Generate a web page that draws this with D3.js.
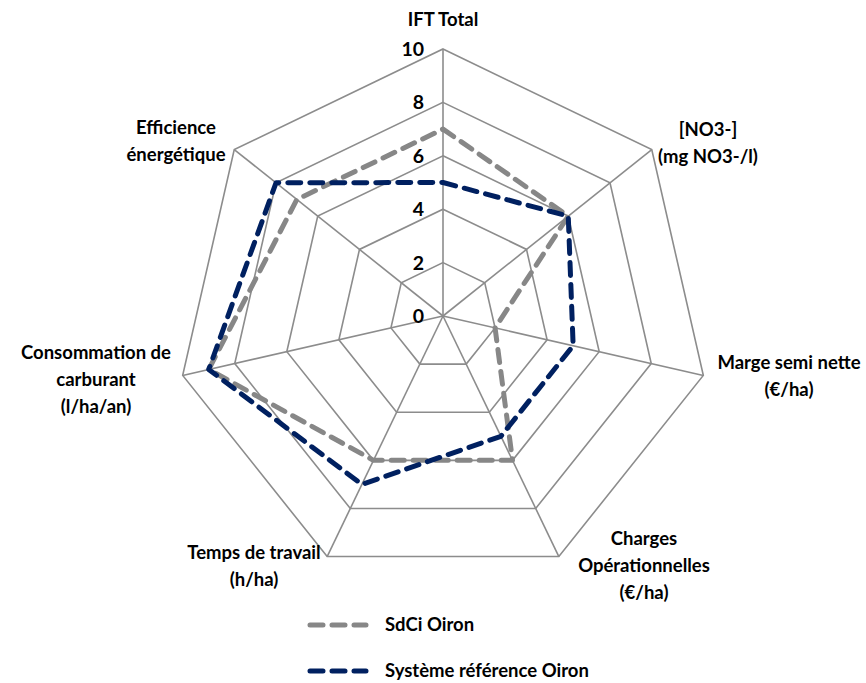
<!DOCTYPE html>
<html>
<head>
<meta charset="utf-8">
<script src="https://cdn.jsdelivr.net/npm/d3@7"></script>
<style>
  html, body { margin: 0; padding: 0; background: #fff; }
  svg text { font-family: Lato, "Open Sans", sans-serif; font-weight: 700; fill: #000; }
</style>
</head>
<body>
<svg id="chart" width="866" height="683"></svg>
<script>
// Axes of the radar, clockwise from the top
const axes = [
  ["IFT Total"],
  ["[NO3-]", "(mg NO3-/l)"],
  ["Marge semi nette", "(€/ha)"],
  ["Charges", "Opérationnelles", "(€/ha)"],
  ["Temps de travail", "(h/ha)"],
  ["Consommation de", "carburant", "(l/ha/an)"],
  ["Efficience", "énergétique"]
];
const seriesNames = ["SdCi Oiron", "Système référence Oiron"];
const sdciValues = [7, 6, 2, 6, 6, 9, 7];
const referenceValues = [5, 6, 5, 5, 7, 9, 8];
const tickValues = [0, 2, 4, 6, 8, 10];

const colors = ["#878787", "#002060"];
const series = [
  { name: seriesNames[0], values: sdciValues, color: colors[0] },
  { name: seriesNames[1], values: referenceValues, color: colors[1] }
];

const svg = d3.select("#chart");
const cx = 443, cy = 316, radius = 267;
const n = axes.length;
const r = d3.scaleLinear().domain([0, 10]).range([0, radius]);
const angle = i => i * 2 * Math.PI / n;
const pt = (i, v) => [cx + r(v) * Math.sin(angle(i)), cy - r(v) * Math.cos(angle(i))];

const g = svg.append("g");

// Polygon rings at every tick
tickValues.filter(t => t > 0).forEach(t => {
  g.append("polygon")
    .attr("points", d3.range(n).map(i => pt(i, t).join(",")).join(" "))
    .attr("fill", "none").attr("stroke", "#8c8c8c").attr("stroke-width", 1.6);
});

// Spokes
d3.range(n).forEach(i => {
  const [x, y] = pt(i, 10);
  g.append("line").attr("x1", cx).attr("y1", cy).attr("x2", x).attr("y2", y)
    .attr("stroke", "#8c8c8c").attr("stroke-width", 1.6);
});

// Tick labels along the top axis
tickValues.forEach(t => {
  g.append("text")
    .attr("x", cx - 19).attr("y", cy - r(t) + 7)
    .attr("text-anchor", "end").attr("font-size", 19.5)
    .text(t);
});

// Series lines
const line = d3.line().curve(d3.curveLinearClosed);
series.forEach(s => {
  g.append("path")
    .attr("d", line(s.values.map((v, i) => pt(i, v))))
    .attr("fill", "none").attr("stroke", s.color).attr("stroke-width", 5)
    .attr("stroke-dasharray", "13,9").attr("stroke-linecap", "round")
    .attr("stroke-linejoin", "round");
});

// Axis labels
const labelPos = [
  [443, 26], [708, 136], [789, 369], [644, 545], [254, 559], [96, 359], [176, 134]
];
axes.forEach((lines, i) => {
  const t = g.append("text").attr("text-anchor", "middle").attr("font-size", 18.5);
  lines.forEach((l, k) => {
    t.append("tspan").attr("x", labelPos[i][0]).attr("y", labelPos[i][1] + k * 27).text(l);
  });
});

// Legend
const legend = svg.append("g");
series.forEach((s, k) => {
  const y = 625 + k * 46;
  legend.append("line").attr("x1", 310).attr("x2", 366).attr("y1", y).attr("y2", y)
    .attr("stroke", s.color).attr("stroke-width", 5)
    .attr("stroke-dasharray", "13,9").attr("stroke-linecap", "round");
  legend.append("text").attr("x", 385).attr("y", y + 6).attr("font-size", 18.5).text(s.name);
});
</script>
</body>
</html>
